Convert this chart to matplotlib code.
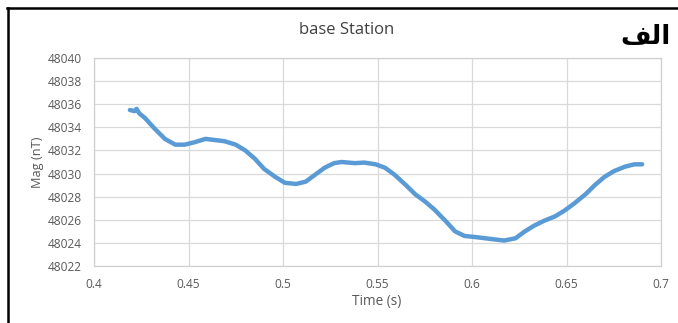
import matplotlib
matplotlib.use("Agg")
import matplotlib.pyplot as plt
from matplotlib.lines import Line2D
from matplotlib.ticker import MultipleLocator, FuncFormatter

time_s = [0.419, 0.4215, 0.4225, 0.424, 0.427, 0.432, 0.4375, 0.443, 0.448, 0.453,
          0.459, 0.464, 0.469, 0.475, 0.480, 0.485, 0.490, 0.496, 0.501, 0.507,
          0.512, 0.517, 0.522, 0.527, 0.531, 0.538, 0.543, 0.549, 0.554, 0.559,
          0.565, 0.570, 0.575, 0.580, 0.586, 0.591, 0.596, 0.602, 0.607, 0.612,
          0.617, 0.623, 0.628, 0.633, 0.638, 0.644, 0.649, 0.654, 0.660, 0.665,
          0.670, 0.675, 0.681, 0.686, 0.690]
mag_nt = [48035.5, 48035.4, 48035.6, 48035.2, 48034.8, 48033.9, 48033.0, 48032.5, 48032.5, 48032.7,
          48033.0, 48032.9, 48032.8, 48032.5, 48032.0, 48031.3, 48030.4, 48029.7, 48029.2, 48029.1,
          48029.3, 48029.9, 48030.5, 48030.9, 48031.0, 48030.9, 48030.95, 48030.8, 48030.5, 48029.9,
          48029.0, 48028.2, 48027.6, 48026.9, 48025.9, 48025.0, 48024.6, 48024.5, 48024.4, 48024.3,
          48024.2, 48024.4, 48025.0, 48025.5, 48025.9, 48026.3, 48026.8, 48027.4, 48028.2, 48029.0,
          48029.7, 48030.2, 48030.6, 48030.8, 48030.8]

title = "base Station"
label_ar = "\uFED2\uFEDF\uFE8D"  # الف (visual order, shaped)
xlabel = "Time (s)"
ylabel = "Mag (nT)"

W, H = 678, 323
fig = plt.figure(figsize=(W / 100, H / 100), dpi=100)
fig.patch.set_facecolor("white")
ax = fig.add_axes([94 / W, 1 - 266 / H, (661 - 94) / W, (266 - 58) / H])

ax.plot(time_s, mag_nt, color="#5B9BD5", lw=3.2, solid_capstyle="round",
        solid_joinstyle="round", zorder=3)

ax.set_xlim(0.4, 0.7)
ax.set_ylim(48022, 48040)
ax.xaxis.set_major_locator(MultipleLocator(0.05))
ax.yaxis.set_major_locator(MultipleLocator(2))
ax.xaxis.set_major_formatter(FuncFormatter(lambda v, p: f"{v:.2f}".rstrip("0").rstrip(".")))
ax.yaxis.set_major_formatter(FuncFormatter(lambda v, p: f"{int(round(v))}"))
ax.grid(True, color="#D9D9D9", lw=0.9, zorder=0)
for s in ax.spines.values():
    s.set_color("#D0D0D0")
    s.set_linewidth(0.9)
ax.tick_params(length=0, colors="#595959", labelsize=8.6, pad=9)
for lab in ax.get_xticklabels() + ax.get_yticklabels():
    lab.set_fontfamily("Open Sans")

fig.text(347 / W, 1 - 30 / H, title, ha="center", va="center", fontsize=12,
         color="#404040", family="Open Sans")
fig.text(646 / W, 1 - 37 / H, label_ar, ha="center", va="center", fontsize=19,
         fontweight="bold", color="black", family="DejaVu Sans")
fig.text(377 / W, 1 - 301 / H, xlabel, ha="center", va="center", fontsize=9.8,
         color="#595959", family="Open Sans")
fig.text(37 / W, 1 - 162 / H, ylabel, ha="center", va="center", fontsize=9.2,
         color="#595959", family="Open Sans", rotation=90)

fig.add_artist(Line2D([8 / W, 8 / W], [0, 1 - 8 / H], transform=fig.transFigure,
                      color="black", lw=1.8))
fig.add_artist(Line2D([7 / W, 1], [1 - 8 / H, 1 - 8 / H], transform=fig.transFigure,
                      color="black", lw=1.8))

fig.savefig("out.png", dpi=100)
